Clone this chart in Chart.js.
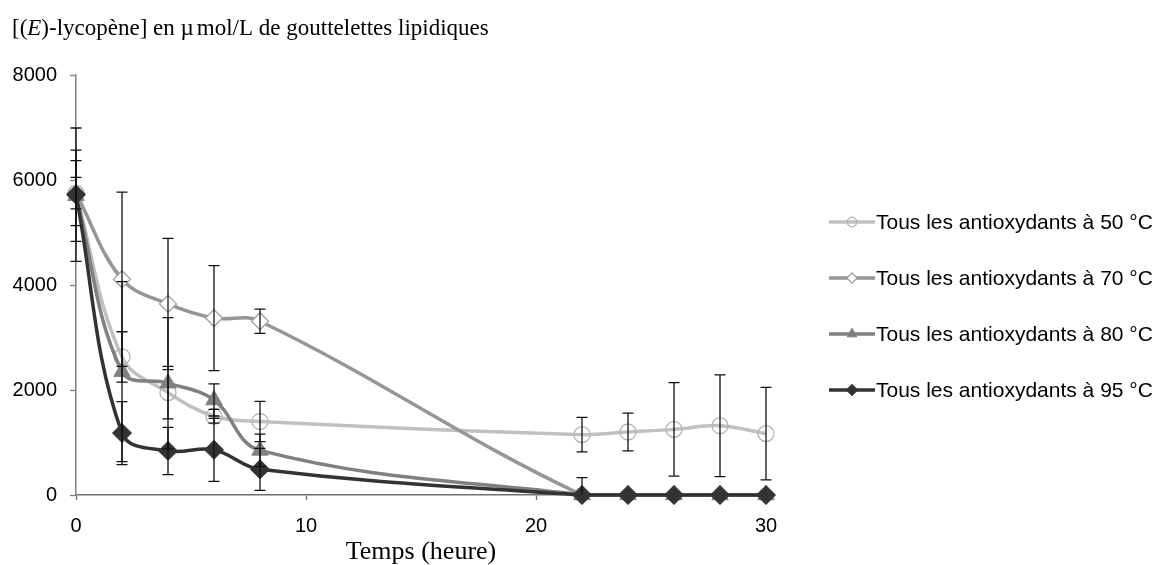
<!DOCTYPE html>
<html><head><meta charset="utf-8">
<script src="https://cdn.jsdelivr.net/npm/chart.js@4"></script>
<style>html,body{margin:0;padding:0;background:#fff}#wrap{width:1158px;height:565px}</style>
</head><body><div id="wrap"><canvas id="c" width="1158" height="565"></canvas></div>
<script>
// ---- data ----
const hours = [0, 2, 4, 6, 8, 22, 24, 26, 28, 30];
const seriesLabels = [
  "Tous les antioxydants à 50 °C",
  "Tous les antioxydants à 70 °C",
  "Tous les antioxydants à 80 °C",
  "Tous les antioxydants à 95 °C"
];
const lyco50 = [5750, 2630, 1950, 1500, 1400, 1150, 1200, 1250, 1320, 1170];
const err50  = [300, 480, 500, 130, 385, 330, 360, 890, 970, 880];
const lyco70 = [5750, 4110, 3640, 3370, 3310, 0, 0, 0, 0, 0];
const err70  = [620, 1660, 1250, 1000, 230, 0, 0, 0, 0, 0];
const lyco80 = [5700, 2350, 2130, 1810, 850, 0, 0, 0, 0, 0];
const err80  = [870, 1715, 1250, 305, 310, 0, 0, 0, 0, 0];
const lyco95 = [5720, 1180, 840, 860, 490, 0, 0, 0, 0, 0];
const err95  = [1270, 600, 450, 600, 400, 330, 0, 0, 0, 0];
const yTicks = [0, 2000, 4000, 6000, 8000];
const xTicks = [0, 10, 20, 30];
const titleParts = [["[(", false], ["E", true], [")-lycopène] en ", false], ["µ", false], ["mol/L de gouttelettes lipidiques", false]];
const xTitle = "Temps (heure)";

const toXY = arr => arr.map((v, i) => ({x: hours[i], y: v}));

const styles = [
  {line: '#c0c0c0', ps: 'circle', r: 8, fill: 'rgba(255,255,255,0)', bc: '#b4b4b4', bw: 1.3},
  {line: '#969696', ps: 'rectRot', r: 8.5, fill: '#ffffff', bc: '#a0a0a0', bw: 1.3},
  {line: '#808080', ps: 'triangle', r: 9.5, fill: '#808080', bc: '#808080', bw: 1},
  {line: '#333333', ps: 'rectRot', r: 9.5, fill: '#333333', bc: '#333333', bw: 1}
];
const values = [lyco50, lyco70, lyco80, lyco95];
const errors = [err50, err70, err80, err95];

const datasets = values.map((vals, k) => ({
  label: seriesLabels[k],
  data: toXY(vals),
  errors: errors[k],
  borderColor: styles[k].line,
  borderWidth: 3.5,
  tension: 0.38,
  fill: false,
  clip: false,
  order: 3 - k,
  pointStyle: styles[k].ps,
  pointRadius: styles[k].r,
  pointBackgroundColor: styles[k].fill,
  pointBorderColor: styles[k].bc,
  pointBorderWidth: styles[k].bw,
  pointHoverRadius: styles[k].r
}));

const errorBarPlugin = {
  id: 'errorBars',
  afterDatasetsDraw(chart) {
    const {ctx, chartArea, scales} = chart;
    const xs = scales.x, ys = scales.y;
    ctx.save();
    ctx.beginPath();
    ctx.rect(chartArea.left - 20, chartArea.top - 20, chartArea.width + 40, chartArea.bottom - chartArea.top + 20);
    ctx.clip();
    ctx.strokeStyle = '#111';
    ctx.lineWidth = 1.3;
    chart.data.datasets.forEach(ds => {
      ds.data.forEach((p, i) => {
        const e = ds.errors[i];
        if (!e) return;
        const px = xs.getPixelForValue(p.x);
        const t = ys.getPixelForValue(p.y + e);
        const b = ys.getPixelForValue(p.y - e);
        ctx.beginPath();
        ctx.moveTo(px, t); ctx.lineTo(px, b);
        ctx.moveTo(px - 5.5, t); ctx.lineTo(px + 5.5, t);
        ctx.moveTo(px - 5.5, b); ctx.lineTo(px + 5.5, b);
        ctx.stroke();
      });
    });
    ctx.restore();
  }
};

const decorPlugin = {
  id: 'decor',
  afterDraw(chart) {
    const ctx = chart.ctx;
    ctx.save();
    // title
    ctx.fillStyle = '#000';
    ctx.textBaseline = 'alphabetic';
    ctx.textAlign = 'left';
    let x = 12;
    titleParts.forEach(([txt, it]) => {
      ctx.font = (it ? 'italic ' : '') + '23px "Liberation Serif"';
      ctx.fillText(txt, x, 35);
      x += ctx.measureText(txt).width + (txt === 'µ' ? 3 : 0);
    });
    // legend
    const rows = [222, 278, 334, 390];
    chart.data.datasets.forEach((ds, k) => {
      const y = rows[k];
      ctx.strokeStyle = ds.borderColor;
      ctx.lineWidth = 3.5;
      ctx.beginPath(); ctx.moveTo(829, y); ctx.lineTo(875, y); ctx.stroke();
      ctx.fillStyle = ds.pointBackgroundColor;
      ctx.strokeStyle = ds.pointBorderColor;
      ctx.lineWidth = ds.pointBorderWidth;
      Chart.helpers.drawPoint(ctx, {pointStyle: ds.pointStyle, radius: ds.pointRadius * 0.6, borderWidth: ds.pointBorderWidth, rotation: 0}, 852, y);
      ctx.fillStyle = '#000';
      ctx.font = '21px "Liberation Sans"';
      ctx.textBaseline = 'middle';
      ctx.fillText(ds.label, 876, y + 1);
    });
    ctx.restore();
  }
};

new Chart(document.getElementById('c'), {
  type: 'line',
  data: {datasets},
  plugins: [errorBarPlugin, decorPlugin],
  options: {
    responsive: false,
    animation: false,
    devicePixelRatio: 1,
    layout: {padding: {left: 0, top: 75, right: 392, bottom: 0}},
    plugins: {legend: {display: false}, tooltip: {enabled: false}, title: {display: false}},
    scales: {
      x: {
        type: 'linear', min: 0, max: 30,
        afterBuildTicks: s => { s.ticks = xTicks.map(v => ({value: v})); },
        afterFit: s => { s.height = 70; },
        ticks: {color: '#000', font: {family: 'Liberation Sans', size: 20}, padding: 14, maxRotation: 0, callback: v => String(v)},
        grid: {display: true, drawOnChartArea: false, drawTicks: true, tickLength: 5, color: '#707070', tickWidth: 1.3},
        border: {display: true, color: '#707070', width: 1.5},
        title: {display: true, text: xTitle, color: '#000', font: {family: 'Liberation Serif', size: 26}, padding: {top: 0, bottom: -3}}
      },
      y: {
        type: 'linear', min: 0, max: 8000,
        afterBuildTicks: s => { s.ticks = yTicks.map(v => ({value: v})); },
        afterFit: s => { s.width = 76; },
        ticks: {color: '#000', font: {family: 'Liberation Sans', size: 20}, padding: 13, callback: v => String(v)},
        grid: {display: true, drawOnChartArea: false, drawTicks: true, tickLength: 6, color: '#808080', tickWidth: 1.3},
        border: {display: true, color: '#808080', width: 1.5}
      }
    }
  }
});
</script></body></html>
